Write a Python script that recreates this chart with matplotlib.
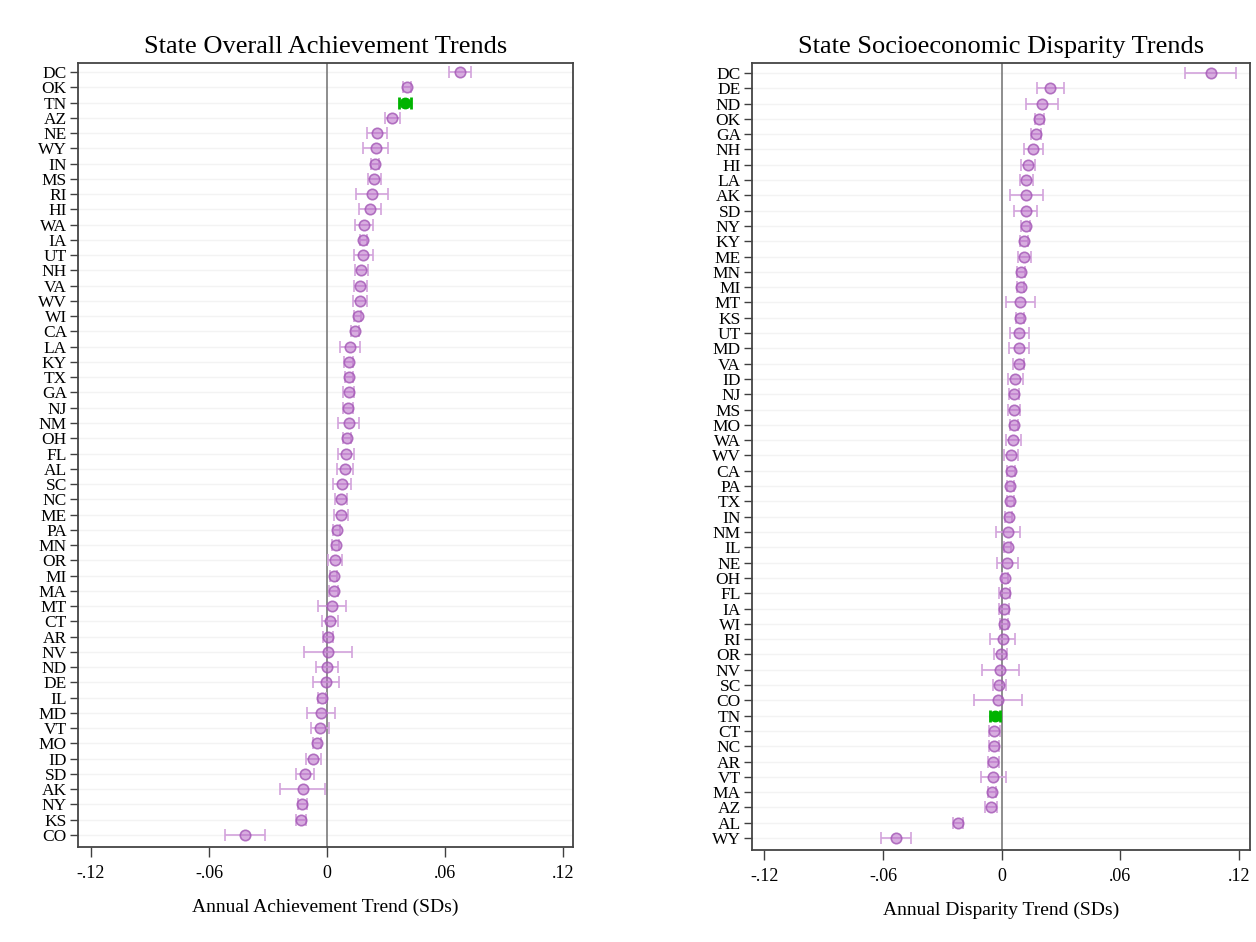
import matplotlib
matplotlib.use("Agg")
import matplotlib.pyplot as plt
import numpy as np

plt.rcParams['font.family'] = ['Liberation Serif', 'DejaVu Serif']

# Left panel: overall achievement trends (top to bottom)
ach_states = ["DC","OK","TN","AZ","NE","WY","IN","MS","RI","HI","WA","IA","UT","NH","VA","WV",
              "WI","CA","LA","KY","TX","GA","NJ","NM","OH","FL","AL","SC","NC","ME","PA","MN",
              "OR","MI","MA","MT","CT","AR","NV","ND","DE","IL","MD","VT","MO","ID","SD","AK",
              "NY","KS","CO"]
ach_est = [0.0676,0.0405,0.0395,0.0331,0.0253,0.0247,0.0245,0.0240,0.0229,0.0218,0.0187,0.0185,
           0.0184,0.0175,0.0169,0.0167,0.0155,0.0140,0.0116,0.0111,0.0111,0.0109,0.0107,0.0109,
           0.0100,0.0096,0.0093,0.0075,0.0071,0.0069,0.0049,0.0045,0.0040,0.0033,0.0033,0.0024,
           0.0016,0.0004,0.0005,0.0000,-0.0005,-0.0027,-0.0029,-0.0036,-0.0049,-0.0069,-0.0113,
           -0.0124,-0.0125,-0.0133,-0.0415]
ach_ci = [0.0055,0.0020,0.0030,0.0038,0.0050,0.0065,0.0020,0.0034,0.0082,0.0056,0.0045,0.0020,
          0.0048,0.0033,0.0033,0.0035,0.0018,0.0020,0.0050,0.0023,0.0020,0.0027,0.0027,0.0055,
          0.0020,0.0040,0.0040,0.0045,0.0030,0.0035,0.0018,0.0018,0.0034,0.0018,0.0025,0.0070,
          0.0040,0.0027,0.0122,0.0057,0.0067,0.0020,0.0071,0.0045,0.0020,0.0039,0.0045,0.0113,
          0.0024,0.0025,0.0102]

# Right panel: socioeconomic disparity trends (top to bottom)
dis_states = ["DC","DE","ND","OK","GA","NH","HI","LA","AK","SD","NY","KY","ME","MN","MI","MT",
              "KS","UT","MD","VA","ID","NJ","MS","MO","WA","WV","CA","PA","TX","IN","NM","IL",
              "NE","OH","FL","IA","WI","RI","OR","NV","SC","CO","TN","CT","NC","AR","VT","MA",
              "AZ","AL","WY"]
dis_est = [0.1057,0.0245,0.0203,0.0190,0.0174,0.0160,0.0132,0.0125,0.0123,0.0121,0.0121,0.0114,
           0.0114,0.0098,0.0096,0.0094,0.0091,0.0089,0.0087,0.0085,0.0069,0.0063,0.0063,0.0062,
           0.0058,0.0047,0.0047,0.0042,0.0042,0.0036,0.0033,0.0031,0.0029,0.0018,0.0015,0.0013,
           0.0013,0.0005,-0.0005,-0.0007,-0.0013,-0.0018,-0.0033,-0.0038,-0.0038,-0.0042,-0.0042,
           -0.0049,-0.0056,-0.0221,-0.0537]
dis_ci = [0.0128,0.0069,0.0082,0.0022,0.0025,0.0048,0.0035,0.0033,0.0083,0.0059,0.0022,0.0020,
          0.0034,0.0022,0.0018,0.0073,0.0020,0.0048,0.0050,0.0029,0.0038,0.0026,0.0030,0.0018,
          0.0038,0.0037,0.0018,0.0018,0.0018,0.0018,0.0060,0.0018,0.0053,0.0016,0.0028,0.0025,
          0.0020,0.0062,0.0034,0.0095,0.0033,0.0121,0.0025,0.0028,0.0025,0.0028,0.0065,0.0022,
          0.0030,0.0025,0.0076]

highlight = "TN"
xticks = [-0.12, -0.06, 0, 0.06, 0.12]
xticklabels = ["-.12", "-.06", "0", ".06", ".12"]

PURPLE_FACE = "#b86cc8"
PURPLE_EDGE = "#a458b6"
PURPLE_ERR = "#d3a3dc"
GREEN = "#00b300"

fig = plt.figure(figsize=(12.56, 9.42), dpi=100)
ax1 = fig.add_axes([0.0621, 0.1008, 0.3941, 0.8323])
ax2 = fig.add_axes([0.5987, 0.0977, 0.3965, 0.8354])


def draw(ax, states, est, ci, title, xlabel, ylim, xlim):
    n = len(states)
    ypos = np.arange(n)[::-1]
    est = np.array(est)
    ci = np.array(ci)
    for y in ypos:
        ax.axhline(y, color="#f3f3f3", lw=1.0, zorder=0)
    ax.axvline(0, color="#7a7a7a", lw=1.2, zorder=1)
    mask = np.array([s != highlight for s in states])
    ax.errorbar(est[mask], ypos[mask], xerr=ci[mask], fmt="none", ecolor=PURPLE_ERR,
                elinewidth=1.2, capsize=4, capthick=1.2, zorder=2)
    ax.plot(est[mask], ypos[mask], "o", ms=7.5, mfc=(0.72, 0.42, 0.78, 0.55),
            mec=(0.64, 0.34, 0.71, 0.8), mew=1.2, zorder=3, linestyle="none")
    hm = ~mask
    ax.errorbar(est[hm], ypos[hm], xerr=ci[hm], fmt="none", ecolor=GREEN,
                elinewidth=2.5, capsize=4, capthick=2.0, zorder=4)
    ax.plot(est[hm], ypos[hm], "o", ms=7.5, mfc=GREEN, mec=GREEN, zorder=5, linestyle="none")
    ax.set_yticks(ypos)
    ax.set_yticklabels(states, fontsize=12.5)
    ax.set_xticks(xticks)
    ax.set_xticklabels(xticklabels, fontsize=13)
    ax.set_xlim(*xlim)
    ax.set_ylim(*ylim)
    ax.tick_params(axis="y", length=6, width=1, pad=2, color="#404040")
    ax.tick_params(axis="x", length=7, width=1, pad=6, color="#404040")
    for sp in ax.spines.values():
        sp.set_color("#444444")
        sp.set_linewidth(1.3)
    ax.set_title(title, fontsize=19, pad=7)
    ax.set_xlabel(xlabel, fontsize=14, labelpad=12)


draw(ax1, ach_states, ach_est, ach_ci, "State Overall Achievement Trends",
     "Annual Achievement Trend (SDs)", (-0.79, 50.59), (-0.1266, 0.1250))
draw(ax2, dis_states, dis_est, dis_ci, "State Socioeconomic Disparity Trends",
     "Annual Disparity Trend (SDs)", (-0.78, 50.65), (-0.1263, 0.1255))

fig.savefig("out.png", dpi=100)
